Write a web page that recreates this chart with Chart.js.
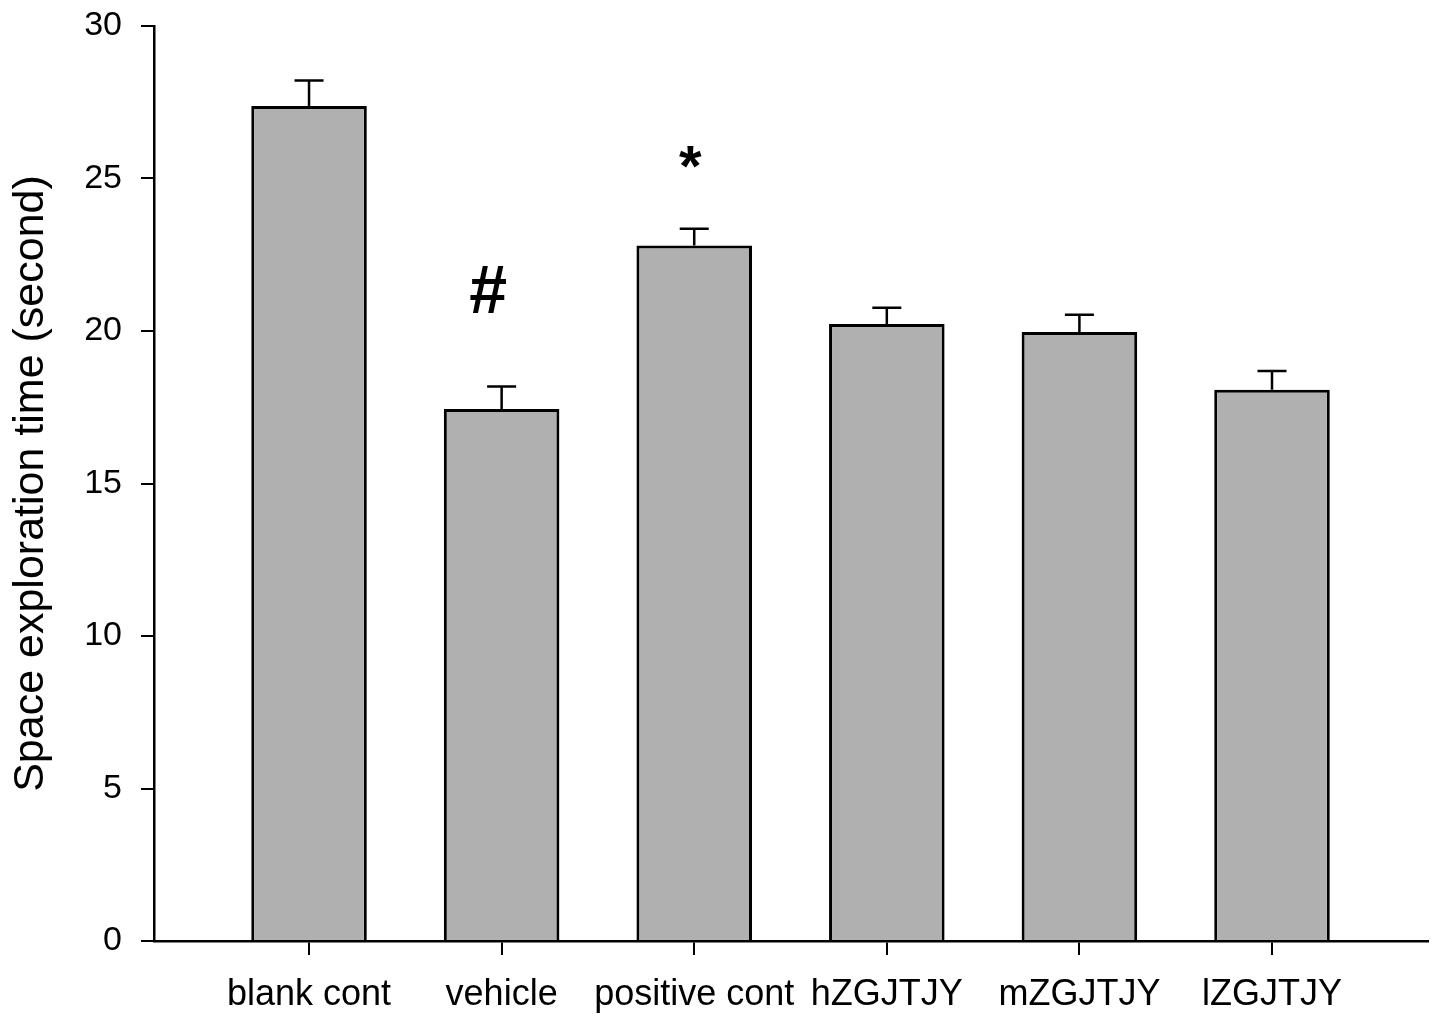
<!DOCTYPE html>
<html lang="en">
<head>
    <meta charset="UTF-8">
    <title>Space exploration time</title>
    <script src="https://cdn.jsdelivr.net/npm/chart.js"></script>
    <style>
        body { margin: 0; background: #fff; }
        #wrap { width: 1441px; height: 1023px; }
    </style>
</head>
<body>
    <div id="wrap"><canvas id="barChart" width="1441" height="1023"></canvas></div>

    <script>
        // groups and values
        const groups = ["blank cont", "vehicle", "positive cont", "hZGJTJY", "mZGJTJY", "lZGJTJY"];
        const means = [27.38, 17.44, 22.80, 20.23, 19.97, 18.07];
        const sems = [0.83, 0.74, 0.55, 0.53, 0.56, 0.62];
        const yTicks = [0, 5, 10, 15, 20, 25, 30];

        // significance marks (text, x position in group units, y value)
        const markText = ["#", "*"];
        const markX = [0.93, 1.98];
        const markY = [21.2, 25.6];

        const FONT = "'Liberation Sans', Arial, sans-serif";

        // upper error bars
        const errorBars = {
            id: "errorBars",
            afterDatasetsDraw(chart) {
                const ctx = chart.ctx;
                const y = chart.scales.y;
                const meta = chart.getDatasetMeta(0);
                ctx.save();
                ctx.strokeStyle = "#000";
                ctx.lineWidth = 2.5;
                meta.data.forEach((bar, i) => {
                    const top = y.getPixelForValue(means[i] + sems[i]);
                    ctx.beginPath();
                    ctx.moveTo(bar.x, bar.y);
                    ctx.lineTo(bar.x, top);
                    ctx.moveTo(bar.x - 14.5, top);
                    ctx.lineTo(bar.x + 14.5, top);
                    ctx.stroke();
                });
                ctx.restore();
            }
        };

        const marks = {
            id: "marks",
            afterDraw(chart) {
                const ctx = chart.ctx;
                const x = chart.scales.x, y = chart.scales.y;
                ctx.save();
                ctx.fillStyle = "#000";
                ctx.textAlign = "center";
                ctx.textBaseline = "middle";
                markText.forEach((t, i) => {
                    ctx.font = "bold " + (t === "#" ? 68 : 58) + "px " + FONT;
                    ctx.fillText(t, x.getPixelForValue(markX[i]), y.getPixelForValue(markY[i]) + (t === "*" ? 10 : 0));
                });
                ctx.restore();
            }
        };

        const ctx = document.getElementById("barChart").getContext("2d");
        new Chart(ctx, {
            type: "bar",
            data: {
                datasets: [{
                    data: means.map((v, i) => ({ x: i, y: v })),
                    backgroundColor: "#b0b0b0",
                    borderColor: "#000",
                    borderWidth: 3,
                    barPercentage: 0.6,
                    categoryPercentage: 1
                }]
            },
            options: {
                responsive: false,
                animation: false,
                layout: { padding: { left: 0, right: 13, top: 26, bottom: 0 } },
                plugins: {
                    legend: { display: false },
                    tooltip: { enabled: false }
                },
                scales: {
                    x: {
                        type: "linear",
                        offset: false,
                        min: -0.805,
                        max: 5.81,
                        afterBuildTicks: (s) => { s.ticks = groups.map((g, i) => ({ value: i })); },
                        afterFit: (s) => { s.height = 82; s.paddingLeft = 0; s.paddingRight = 0; },
                        ticks: {
                            callback: (v) => groups[v],
                            color: "#000",
                            font: { family: FONT, size: 36 },
                            padding: 18,
                            maxRotation: 0,
                            autoSkip: false
                        },
                        grid: { offset: false, drawOnChartArea: false, color: "#000", lineWidth: 2, tickLength: 14 },
                        border: { color: "#000", width: 2.5 }
                    },
                    y: {
                        min: 0,
                        max: 30,
                        afterBuildTicks: (s) => { s.ticks = yTicks.map(v => ({ value: v })); },
                        afterFit: (s) => { s.width = 154; s.paddingTop = 0; s.paddingBottom = 0; },
                        ticks: {
                            color: "#000",
                            font: { family: FONT, size: 34 },
                            padding: 19
                        },
                        grid: { drawOnChartArea: false, color: "#000", lineWidth: 2, tickLength: 13 },
                        border: { color: "#000", width: 2.5 },
                        title: {
                            display: true,
                            text: "Space exploration time (second)",
                            color: "#000",
                            font: { family: FONT, size: 43 },
                            padding: { top: 5, bottom: 0 }
                        }
                    }
                }
            },
            plugins: [errorBars, marks]
        });
    </script>
</body>
</html>
